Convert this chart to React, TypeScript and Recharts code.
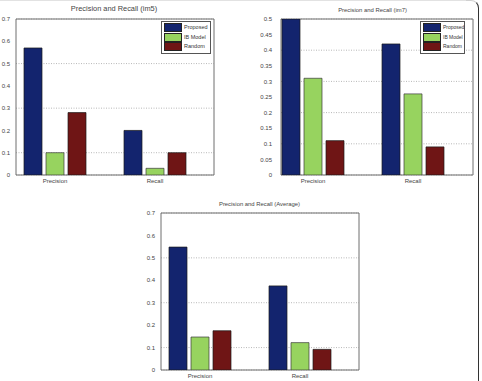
import React from "react";
import {
  BarChart,
  Bar,
  XAxis,
  YAxis,
  CartesianGrid,
  ReferenceArea,
  Legend,
} from "recharts";

const categories = ["Precision", "Recall"];
const categoryPositions = [1, 2];
const seriesNames = ["Proposed", "IB Model", "Random"];

const im5Proposed = [0.57, 0.2];
const im5Model = [0.1, 0.03];
const im5Random = [0.28, 0.1];

const im7Proposed = [0.5, 0.42];
const im7Model = [0.31, 0.26];
const im7Random = [0.11, 0.09];

const avgProposed = [0.548, 0.375];
const avgModel = [0.147, 0.122];
const avgRandom = [0.175, 0.092];

const ticks07 = [0, 0.1, 0.2, 0.3, 0.4, 0.5, 0.6, 0.7];
const ticks05 = [0, 0.05, 0.1, 0.15, 0.2, 0.25, 0.3, 0.35, 0.4, 0.45, 0.5];

const COLORS = ["#13246e", "#97d35f", "#6f1515"];
const FONT = "'Liberation Sans', Arial, sans-serif";
const TEXT = "#444";

function buildData(p: number[], m: number[], r: number[]) {
  return categories.map((c, i) => ({
    x: categoryPositions[i],
    name: c,
    proposed: p[i],
    model: m[i],
    random: r[i],
  }));
}

const LegendBox = ({ fontSize, swatch }: { fontSize: number; swatch: number }) => (
  <div
    style={{
      border: "1px solid #555",
      background: "#fff",
      padding: "1px 2px",
      fontFamily: FONT,
      fontSize,
      color: "#333",
      lineHeight: "9.5px",
      whiteSpace: "nowrap",
      boxSizing: "border-box",
    }}
  >
    {seriesNames.map((n, i) => (
      <div key={n} style={{ display: "flex", alignItems: "center", height: 9.5, whiteSpace: "nowrap" }}>
        <span
          style={{
            display: "inline-block",
            flex: "none",
            width: swatch,
            height: 7,
            background: COLORS[i],
            border: "0.7px solid #222",
            marginRight: 2,
          }}
        />
        <span style={{ whiteSpace: "nowrap" }}>{n}</span>
      </div>
    ))}
  </div>
);

type PanelProps = {
  left: number;
  top: number;
  width: number;
  height: number;
  margin: { top: number; right: number; bottom: number; left: number };
  yWidth: number;
  xHeight: number;
  yTickMargin: number;
  domainX: [number, number];
  yMax: number;
  yTicks: number[];
  data: any[];
  title: string;
  titleSize: number;
  titleX: number;
  titleY: number;
  legend?: { left: number; top: number; width: number; fontSize: number; swatch: number };
};

const Panel = (p: PanelProps) => (
  <div style={{ position: "absolute", left: p.left, top: p.top, width: p.width, height: p.height }}>
    <div
      style={{
        position: "absolute",
        left: p.titleX - 100,
        width: 200,
        top: p.titleY - p.titleSize * 0.6,
        textAlign: "center",
        fontFamily: FONT,
        fontSize: p.titleSize,
        color: TEXT,
        lineHeight: 1.2,
        whiteSpace: "nowrap",
      }}
    >
      {p.title}
    </div>
    <BarChart width={p.width} height={p.height} data={p.data} margin={p.margin} barGap={4}>
      <CartesianGrid
        horizontal={true}
        vertical={false}
        stroke="#9a9a9a"
        strokeDasharray="1 1.5"
        strokeWidth={0.7}
      />
      <XAxis
        type="number"
        dataKey="x"
        domain={p.domainX}
        ticks={categoryPositions}
        allowDataOverflow
        tickFormatter={(v: number) => categories[categoryPositions.indexOf(v)]}
        axisLine={false}
        tickLine={false}
        tickSize={3}
        tickMargin={1}
        height={p.xHeight}
        tick={{ fontSize: 6, fill: TEXT, fontFamily: FONT }}
      />
      <YAxis
        type="number"
        domain={[0, p.yMax]}
        ticks={p.yTicks}
        allowDataOverflow
        axisLine={false}
        tickLine={false}
        tickSize={3}
        tickMargin={p.yTickMargin}
        width={p.yWidth}
        tick={{ fontSize: 6, fill: TEXT, fontFamily: FONT }}
      />
      <Bar dataKey="proposed" name={seriesNames[0]} fill={COLORS[0]} stroke="#1a1a1a" strokeWidth={0.7} barSize={18} isAnimationActive={false} />
      <Bar dataKey="model" name={seriesNames[1]} fill={COLORS[1]} stroke="#3a3a3a" strokeWidth={0.7} barSize={18} isAnimationActive={false} />
      <Bar dataKey="random" name={seriesNames[2]} fill={COLORS[2]} stroke="#1a1a1a" strokeWidth={0.7} barSize={18} isAnimationActive={false} />
      <ReferenceArea
        x1={p.domainX[0]}
        x2={p.domainX[1]}
        y1={0}
        y2={p.yMax}
        fill="none"
        fillOpacity={0}
        stroke="#6e6e6e"
        strokeWidth={1}
        ifOverflow="visible"
      />
      {p.legend && (
        <Legend
          layout="vertical"
          align="center"
          verticalAlign="middle"
          wrapperStyle={{ left: p.legend.left, top: p.legend.top, width: p.legend.width }}
          content={() => <LegendBox fontSize={p.legend!.fontSize} swatch={p.legend!.swatch} />}
        />
      )}
    </BarChart>
  </div>
);

export default function App() {
  return (
    <div
      style={{
        position: "absolute",
        left: 0,
        top: 0,
        width: 482,
        height: 381,
        background: "#fff",
        overflow: "hidden",
      }}
    >
      <div style={{ position: "absolute", left: 0, top: 0, width: 470, height: 0, borderTop: "1px solid #e2e2e2" }} />
      <div
        style={{
          position: "absolute",
          left: 466,
          top: 0,
          width: 12,
          height: 395,
          borderTop: "1px solid #d0d0d0",
          borderRight: "1px solid #333",
          borderTopRightRadius: 8,
        }}
      />
      <Panel
        left={0}
        top={0}
        width={230}
        height={190}
        margin={{ top: 19, right: 16, bottom: 0, left: 0 }}
        yWidth={16}
        xHeight={15}
        yTickMargin={3}
        domainX={[0.61, 2.59]}
        yMax={0.7}
        yTicks={ticks07}
        data={buildData(im5Proposed, im5Model, im5Random)}
        title="Precision and Recall (im5)"
        titleSize={7.4}
        titleX={114}
        titleY={9.5}
        legend={{ left: 161, top: 21, width: 50, fontSize: 5.5, swatch: 16 }}
      />
      <Panel
        left={241}
        top={0}
        width={241}
        height={190}
        margin={{ top: 19, right: 9, bottom: 0, left: 0 }}
        yWidth={40}
        xHeight={15}
        yTickMargin={6}
        domainX={[0.68, 2.6]}
        yMax={0.5}
        yTicks={ticks05}
        data={buildData(im7Proposed, im7Model, im7Random)}
        title="Precision and Recall (im7)"
        titleSize={5.9}
        titleX={131.5}
        titleY={11}
        legend={{ left: 179, top: 21, width: 45, fontSize: 5, swatch: 16 }}
      />
      <Panel
        left={120}
        top={190}
        width={250}
        height={191}
        margin={{ top: 23, right: 11, bottom: 0, left: 0 }}
        yWidth={41}
        xHeight={11}
        yTickMargin={3}
        domainX={[0.61, 2.59]}
        yMax={0.7}
        yTicks={ticks07}
        data={buildData(avgProposed, avgModel, avgRandom)}
        title="Precision and Recall (Average)"
        titleSize={5.9}
        titleX={139.5}
        titleY={15}
      />
    </div>
  );
}
